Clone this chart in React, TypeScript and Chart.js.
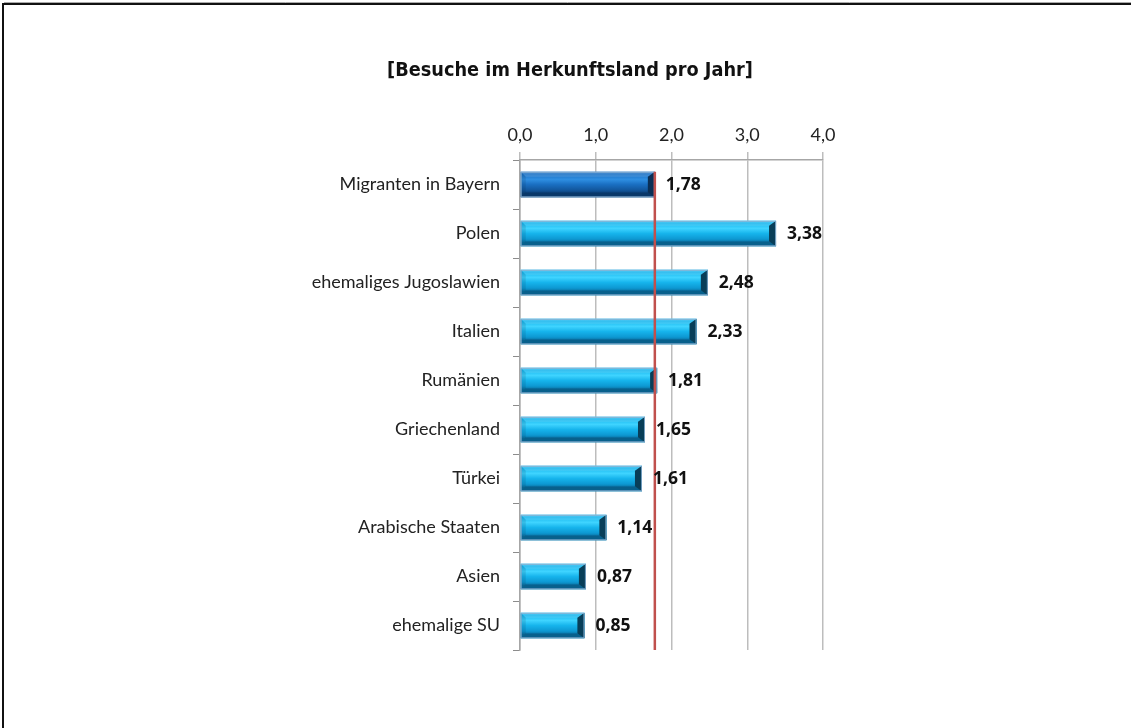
import React, { useEffect, useRef } from "react";
import { Chart, registerables } from "chart.js";

Chart.register(...registerables);

const categories = [
  "Migranten in Bayern",
  "Polen",
  "ehemaliges Jugoslawien",
  "Italien",
  "Rumänien",
  "Griechenland",
  "Türkei",
  "Arabische Staaten",
  "Asien",
  "ehemalige SU",
];
const values = [1.78, 3.38, 2.48, 2.33, 1.81, 1.65, 1.61, 1.14, 0.87, 0.85];
const averageValue = 1.78;
const xMin = 0;
const xMax = 4;
const xStep = 1;
const titleText = "[Besuche im Herkunftsland pro Jahr]";

const fmt = (v: number, d: number) => v.toFixed(d).replace(".", ",");

const darkPalette = {
  main: "#1a6fc2",
  edge: "#6fa8e0",
  hi: "#2f8fe2",
  low: "#12569c",
  bottom: "#0c3f73",
  right: "#0a2f55",
};
const cyanPalette = {
  main: "#16b4ec",
  edge: "#8fe3ff",
  hi: "#3fd4ff",
  low: "#0d98d2",
  bottom: "#0a6f9e",
  right: "#083e58",
};

const W = 1131;
const H = 728;

const decorPlugin = {
  id: "decor",
  beforeDraw(chart: any) {
    const ctx = chart.ctx;
    ctx.save();
    ctx.fillStyle = "#ffffff";
    ctx.fillRect(0, 0, chart.width, chart.height);
    // frame
    ctx.strokeStyle = "#111";
    ctx.lineWidth = 2;
    ctx.beginPath();
    ctx.moveTo(3, chart.height);
    ctx.lineTo(3, 4);
    ctx.lineTo(chart.width, 4);
    ctx.stroke();
    ctx.strokeStyle = "#aaa";
    ctx.lineWidth = 1;
    ctx.beginPath();
    ctx.moveTo(4, 2.5);
    ctx.lineTo(chart.width, 2.5);
    ctx.stroke();
    // title
    let size = 21;
    ctx.font = `bold ${size}px "DejaVu Sans Condensed", "DejaVu Sans", sans-serif`;
    const w = ctx.measureText(titleText).width;
    size = Math.min(24, size * (366 / w));
    ctx.font = `bold ${size}px "DejaVu Sans Condensed", "DejaVu Sans", sans-serif`;
    ctx.fillStyle = "#111";
    ctx.textAlign = "center";
    ctx.textBaseline = "middle";
    ctx.fillText(titleText, 570, 71);
    ctx.restore();
  },
  afterDatasetsDraw(chart: any) {
    const ctx = chart.ctx;
    const meta = chart.getDatasetMeta(0);
    ctx.save();
    meta.data.forEach((el: any, i: number) => {
      const p = el.getProps(["x", "y", "base", "height"], true);
      const left = Math.min(p.base, p.x);
      const right = Math.max(p.base, p.x);
      const top = p.y - p.height / 2;
      const bottom = p.y + p.height / 2;
      const b = 5;
      const pal = i === 0 ? darkPalette : cyanPalette;
      const g = ctx.createLinearGradient(0, top, 0, bottom);
      g.addColorStop(0, pal.edge);
      g.addColorStop(0.08, pal.main);
      g.addColorStop(0.3, pal.hi);
      g.addColorStop(0.5, pal.main);
      g.addColorStop(0.72, pal.low);
      g.addColorStop(0.85, pal.bottom);
      g.addColorStop(1, pal.bottom);
      ctx.fillStyle = g;
      ctx.fillRect(left, top, right - left, bottom - top);
      const poly = (pts: number[][], color: string) => {
        ctx.beginPath();
        ctx.moveTo(pts[0][0], pts[0][1]);
        for (let k = 1; k < pts.length; k++) ctx.lineTo(pts[k][0], pts[k][1]);
        ctx.closePath();
        ctx.fillStyle = color;
        ctx.fill();
      };
      poly([[left, top], [right, top], [right - b, top + b], [left + b, top + b]], "rgba(255,255,255,0.12)");
      poly([[left, bottom], [right, bottom], [right - b, bottom - b], [left + b, bottom - b]], "rgba(0,30,60,0.18)");
      poly([[left, top], [left + b, top + b], [left + b, bottom - b], [left, bottom]], "rgba(0,30,60,0.12)");
      poly([[right, top], [right - b - 2, top + b], [right - b - 2, bottom - b], [right, bottom]], pal.right);
      ctx.strokeStyle = "rgba(130,170,205,0.9)";
      ctx.lineWidth = 1;
      ctx.strokeRect(left + 0.5, top + 0.5, right - left - 1, bottom - top - 1);
    });
    // average line
    const xs = chart.scales.x;
    const ax = xs.getPixelForValue(averageValue);
    const first: any = meta.data[0];
    const fp = first.getProps(["y", "height"], true);
    ctx.strokeStyle = "#c0504d";
    ctx.lineWidth = 2.5;
    ctx.beginPath();
    ctx.moveTo(ax, fp.y - fp.height / 2);
    ctx.lineTo(ax, chart.chartArea.bottom);
    ctx.stroke();
    // value labels
    ctx.font = 'bold 17.5px "Open Sans", sans-serif';
    ctx.fillStyle = "#111";
    ctx.textAlign = "left";
    ctx.textBaseline = "middle";
    meta.data.forEach((el: any, i: number) => {
      const p = el.getProps(["x", "y"], true);
      ctx.fillText(fmt(values[i], 2), p.x + 11, p.y + 1);
    });
    ctx.restore();
  },
};

export default function App() {
  const ref = useRef<HTMLCanvasElement | null>(null);
  useEffect(() => {
    if (!ref.current) return;
    const chart = new Chart(ref.current, {
      type: "bar",
      data: {
        labels: categories,
        datasets: [
          {
            data: values,
            backgroundColor: values.map((_, i) => (i === 0 ? darkPalette.main : cyanPalette.main)),
            borderWidth: 0,
            barPercentage: 0.52,
            categoryPercentage: 1,
          },
        ],
      },
      plugins: [decorPlugin],
      options: {
        indexAxis: "y",
        responsive: false,
        animation: false,
        layout: { padding: { left: 0, top: 0, right: W - 823, bottom: H - 650 } },
        plugins: { legend: { display: false }, tooltip: { enabled: false }, title: { display: false } },
        scales: {
          x: {
            position: "top",
            min: xMin,
            max: xMax,
            ticks: {
              stepSize: xStep,
              callback: (v: any) => fmt(Number(v), 1),
              font: { family: "Lato", size: 18 },
              color: "#222",
              padding: 6,
            },
            grid: { color: "#bdbdbd", lineWidth: 1.5, tickLength: 8 },
            border: { color: "#a6a6a6", width: 1.5 },
            afterFit: (s: any) => {
              s.height = 160;
            },
          },
          y: {
            ticks: {
              font: { family: "Lato", size: 18 },
              color: "#222",
              padding: 13,
            },
            grid: { drawOnChartArea: false, offset: true, tickLength: 7, color: "#8c8c8c" },
            border: { color: "#a6a6a6", width: 1.5 },
            afterFit: (s: any) => {
              s.width = 520;
            },
          },
        },
      },
    });
    return () => chart.destroy();
  }, []);
  return (
    <div style={{ position: "absolute", left: 0, top: 0, width: W, height: H }}>
      <canvas ref={ref} width={W} height={H} style={{ width: W, height: H, display: "block" }} />
    </div>
  );
}
